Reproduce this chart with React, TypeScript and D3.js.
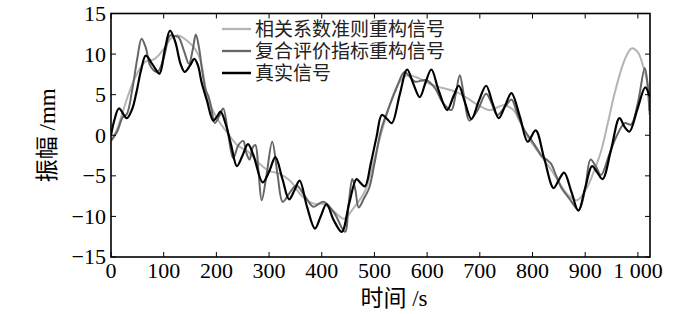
import * as d3 from "d3";

// tick values
const timeTicks = [0, 100, 200, 300, 400, 500, 600, 700, 800, 900, 1000];
const ampTicks = [-15, -10, -5, 0, 5, 10, 15];

const seriesNames = ["相关系数准则重构信号", "复合评价指标重构信号", "真实信号"];

// [time s, amplitude mm]
const corrSignal: [number, number][] = [
  [0, -0.6], [10, 0.5], [20, 2.4], [32, 4.8], [45, 7.0], [64, 9.0], [83, 9.4],
  [100, 10.6], [115, 12.0], [128, 12.3], [145, 11.6], [160, 10.6], [170, 9.2],
  [184, 4.5], [203, 1.9], [222, 0.2], [241, -1.3], [260, -2.0], [280, -3.4],
  [300, -4.4], [318, -4.7], [340, -5.6], [361, -7.4], [383, -8.4], [405, -8.5],
  [425, -9.5], [442, -10.3], [460, -9.0], [482, -6.9], [498, -3.4], [511, -0.2],
  [526, 3.1], [545, 6.3], [562, 7.4], [577, 7.2], [610, 6.2], [660, 5.2],
  [700, 3.6], [720, 3.1], [745, 3.7], [764, 3.1], [775, 1.8], [791, -0.2],
  [817, -2.6], [836, -4.3], [855, -6.3], [870, -7.5], [885, -8.0], [903, -6.5],
  [918, -4.2], [930, -2.0], [943, 1.5], [956, 5.2], [975, 9.3], [988, 10.7],
  [1000, 10.2], [1010, 8.5], [1017, 6.8], [1022, 2.5],
];

const compSignal: [number, number][] = [
  [0, -0.7], [12, 0.5], [22, 2.2], [30, 2.6], [40, 5.5], [50, 9.5], [58, 11.9],
  [66, 10.8], [75, 8.5], [88, 7.8], [100, 9.5], [112, 12.3], [120, 12.2],
  [128, 12.1], [138, 10.5], [148, 8.8], [155, 10.5], [161, 12.4], [167, 10.8],
  [173, 8.0], [180, 5.5], [185, 4.8], [190, 3.5], [197, 1.5], [205, 2.3],
  [213, 3.3], [222, 0.3], [232, -2.8], [242, -1.2], [251, -0.7], [257, -2.2],
  [263, -3.0], [269, -1.5], [274, -1.2], [280, -4.5], [286, -8.0], [295, -5.0],
  [306, -0.8], [316, -4.8], [326, -8.2], [340, -7.0], [352, -6.2], [368, -7.5],
  [384, -8.8], [403, -8.2], [423, -9.5], [444, -11.9], [451, -8.5], [458, -5.4],
  [464, -6.8], [470, -8.9], [480, -7.8], [490, -6.5], [500, -3.5], [512, 0.5],
  [525, 3.0], [540, 5.5], [557, 7.8], [567, 7.2], [577, 6.6], [598, 6.8],
  [615, 5.8], [630, 4.0], [646, 3.1], [654, 5.0], [662, 7.4], [670, 4.8],
  [680, 1.8], [695, 3.0], [712, 5.1], [722, 4.0], [733, 2.5], [748, 3.5],
  [760, 4.4], [772, 2.5], [785, 0.6], [800, -0.8], [810, -1.8], [818, -2.6],
  [827, -3.0], [835, -3.5], [845, -5.0], [855, -6.5], [870, -7.8], [888, -9.2],
  [900, -6.5], [910, -3.0], [920, -3.8], [930, -4.9], [945, -2.5], [959, -0.2],
  [975, 1.5], [987, 1.3], [1000, 4.0], [1013, 8.3], [1018, 6.5], [1022, 3.0],
];

const realSignal: [number, number][] = [
  [0, 0], [7, 2.0], [15, 3.3], [30, 2.1], [40, 3.2], [48, 5.2], [57, 8.0],
  [66, 9.8], [80, 8.6], [92, 7.6], [102, 10.5], [112, 12.9], [122, 11.5],
  [132, 8.8], [140, 7.8], [150, 8.6], [158, 9.4], [165, 8.6], [172, 6.5],
  [182, 4.3], [194, 1.8], [201, 2.3], [208, 2.9], [218, 1.3], [228, -1.2],
  [239, -3.8], [249, -2.6], [260, -1.1], [270, -2.4], [288, -5.8], [300, -4.5],
  [312, -2.7], [325, -5.3], [338, -7.9], [348, -6.8], [358, -5.6], [372, -8.8],
  [387, -11.5], [398, -10.0], [409, -8.5], [423, -10.5], [438, -11.9],
  [452, -8.4], [466, -5.4], [474, -5.9], [482, -6.3], [493, -3.5], [504, -0.2],
  [514, 2.5], [524, 2.0], [533, 1.5], [548, 5.0], [562, 8.1], [574, 6.3],
  [586, 4.7], [597, 6.5], [608, 8.1], [622, 5.5], [638, 3.1], [650, 4.8],
  [660, 6.1], [672, 4.0], [684, 2.0], [698, 4.2], [712, 6.1], [724, 4.0],
  [736, 2.1], [749, 3.8], [760, 5.2], [776, 2.3], [791, -0.8], [806, 0.6],
  [822, -2.8], [840, -6.5], [850, -5.5], [860, -4.6], [874, -7.0], [887, -9.3],
  [900, -6.5], [913, -3.8], [923, -4.6], [933, -5.4], [949, -1.8], [965, 2.1],
  [975, 1.0], [984, 0.45], [999, 3.2], [1014, 5.9], [1022, 4.8],
];

const serif = "Liberation Serif, serif";
const cjk = "Noto Sans CJK SC, sans-serif";

export default function App() {
  const width = 700;
  const height = 314;
  const left = 111;
  const right = 650;
  const top = 13.5;
  const bottom = 257;

  const x = d3.scaleLinear().domain([0, 1023]).range([left, right]);
  const y = d3.scaleLinear().domain([-15, 15]).range([bottom, top]);

  const line = d3
    .line<[number, number]>()
    .x((d) => x(d[0]))
    .y((d) => y(d[1]))
    .curve(d3.curveCatmullRom.alpha(0.5));

  const styles = [
    { stroke: "#b4b4b4", width: 2 },
    { stroke: "#666666", width: 2 },
    { stroke: "#000000", width: 2.2 },
  ];
  const data = [corrSignal, compSignal, realSignal];

  const fmt = (v: number) => (v >= 1000 ? "1 000" : String(v));
  const tickLen = 5;

  return (
    <svg
      width={width}
      height={height}
      style={{ position: "absolute", left: 0, top: 0, background: "#fff" }}
    >
      <defs>
        <clipPath id="plot">
          <rect x={left} y={top} width={right - left} height={bottom - top} />
        </clipPath>
      </defs>

      <g clipPath="url(#plot)">
        {data.map((d, i) => (
          <path
            key={i}
            d={line(d) ?? ""}
            fill="none"
            stroke={styles[i].stroke}
            strokeWidth={styles[i].width}
            strokeLinejoin="round"
          />
        ))}
      </g>

      {/* inward ticks on all four sides */}
      {timeTicks.map((t) => (
        <g key={"xt" + t} stroke="#000" strokeWidth={1}>
          <line x1={x(t)} x2={x(t)} y1={bottom} y2={bottom - tickLen} />
          <line x1={x(t)} x2={x(t)} y1={top} y2={top + tickLen} />
        </g>
      ))}
      {ampTicks.map((v) => (
        <g key={"yt" + v} stroke="#000" strokeWidth={1}>
          <line x1={left} x2={left + tickLen} y1={y(v)} y2={y(v)} />
          <line x1={right} x2={right - tickLen} y1={y(v)} y2={y(v)} />
        </g>
      ))}

      <rect
        x={left}
        y={top}
        width={right - left}
        height={bottom - top}
        fill="none"
        stroke="#000"
        strokeWidth={1.6}
      />

      {timeTicks.map((t) => (
        <text
          key={"xl" + t}
          x={x(t)}
          y={278}
          textAnchor="middle"
          style={{ fontFamily: serif, fontSize: 22 }}
        >
          {fmt(t)}
        </text>
      ))}
      {ampTicks.map((v) => (
        <text
          key={"yl" + v}
          x={106}
          y={y(v)}
          dy="0.34em"
          textAnchor="end"
          style={{ fontFamily: serif, fontSize: 22 }}
        >
          {v < 0 ? "\u2212" + Math.abs(v) : v}
        </text>
      ))}

      <text x={394} y={306} textAnchor="middle" style={{ fontSize: 23 }}>
        <tspan style={{ fontFamily: cjk }}>时间</tspan>
        <tspan style={{ fontFamily: serif }}> /s</tspan>
      </text>
      <text
        transform={`translate(47,${(top + bottom) / 2}) rotate(-90)`}
        textAnchor="middle"
        dy="0.35em"
        style={{ fontSize: 23 }}
      >
        <tspan style={{ fontFamily: cjk }}>振幅</tspan>
        <tspan style={{ fontFamily: serif }}> /mm</tspan>
      </text>

      {seriesNames.map((name, i) => (
        <g key={name} transform={`translate(0,${29 + i * 22})`}>
          <line
            x1={222}
            x2={251}
            y1={0}
            y2={0}
            stroke={styles[i].stroke}
            strokeWidth={styles[i].width + 0.3}
          />
          <text
            x={255}
            y={0}
            dy="0.36em"
            fill="#222"
            style={{ fontFamily: cjk, fontSize: 19 }}
          >
            {name}
          </text>
        </g>
      ))}
    </svg>
  );
}
